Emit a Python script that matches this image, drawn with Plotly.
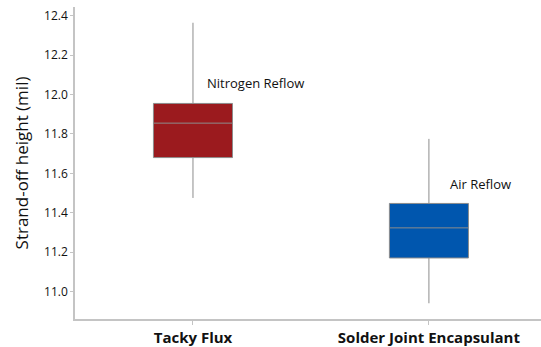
import plotly.graph_objects as go

# Strand-off height summary statistics per flux type (mil)
categories = ["Tacky Flux", "Solder Joint Encapsulant"]
lower_whisker = [11.475, 10.94]
q1_values = [11.68, 11.17]
median_values = [11.855, 11.323]
q3_values = [11.955, 11.447]
upper_whisker = [12.365, 11.775]
fill_colors = ["#9B1A1E", "#0056AE"]
reflow_labels = ["Nitrogen Reflow", "Air Reflow"]
y_ticks = [11.0, 11.2, 11.4, 11.6, 11.8, 12.0, 12.2, 12.4]

FONT = "Open Sans"
TEXT = "#111111"

fig = go.Figure()
for i, cat in enumerate(categories):
    fig.add_trace(go.Box(
        x=[i],
        q1=[q1_values[i]],
        median=[median_values[i]],
        q3=[q3_values[i]],
        lowerfence=[lower_whisker[i]],
        upperfence=[upper_whisker[i]],
        width=0.335,
        whiskerwidth=0,
        fillcolor=fill_colors[i],
        line=dict(color="#8C8C8C", width=1),
        showlegend=False,
        hoverinfo="skip",
    ))

# Reflow atmosphere labels beside each box
label_pos = [(0.05, 12.06), (1.08, 11.545)]
for (lx, ly), txt in zip(label_pos, reflow_labels):
    fig.add_annotation(
        x=lx, y=ly, text=txt, showarrow=False,
        xanchor="left", yanchor="middle",
        font=dict(family=FONT, size=13, color=TEXT),
    )

fig.update_layout(
    width=541, height=347,
    margin=dict(l=75, r=0, t=7, b=23),
    paper_bgcolor="white",
    plot_bgcolor="white",
    font=dict(family=FONT, color=TEXT),
)
fig.update_xaxes(
    range=[-0.5, 1.475],
    tickmode="array",
    tickvals=list(range(len(categories))),
    ticktext=categories,
    tickfont=dict(family=FONT, size=15, color=TEXT, weight="bold"),
    showgrid=False, zeroline=False,
    showline=True, linecolor="#C4C4C4", linewidth=1.5,
    ticks="outside", ticklen=4, tickcolor="#C4C4C4",
)
fig.update_yaxes(
    range=[10.86, 12.445],
    tickmode="array",
    tickvals=y_ticks,
    ticktext=[f"{v:.1f}" for v in y_ticks],
    tickfont=dict(family=FONT, size=12, color=TEXT),
    title=dict(text="Strand-off height (mil)", font=dict(family=FONT, size=17, color=TEXT), standoff=11),
    showgrid=False, zeroline=False,
    showline=True, linecolor="#C4C4C4", linewidth=1.5,
    ticks="outside", ticklen=3, tickcolor="#C4C4C4",
)

fig.write_html("out.html")
